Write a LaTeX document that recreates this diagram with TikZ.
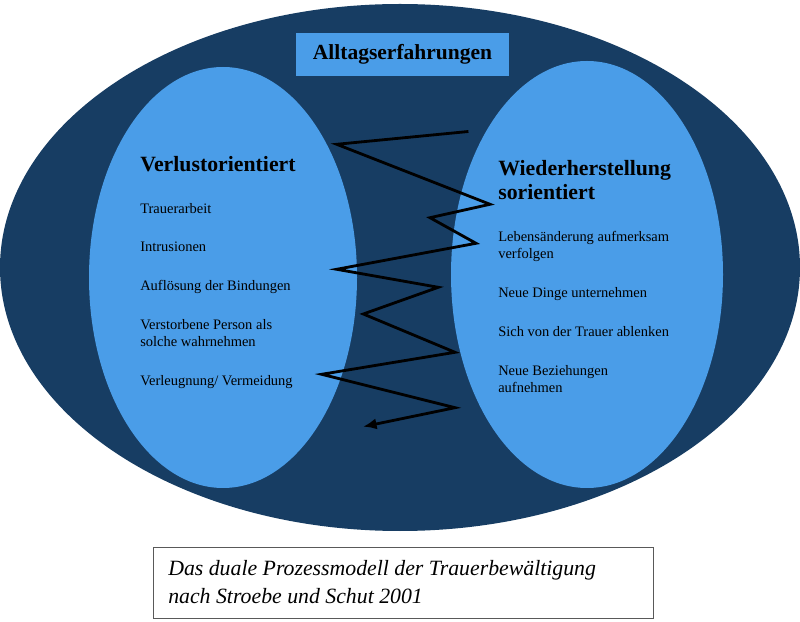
\documentclass[tikz,border=0pt]{standalone}
\usepackage{fontspec}
\setmainfont{Liberation Serif}
\usetikzlibrary{shapes,arrows.meta,positioning,calc}
\definecolor{navy}{RGB}{23,61,99}
\definecolor{sky}{RGB}{74,157,232}

\begin{document}
\begin{tikzpicture}[> = {Latex[length = 3.4mm, width = 2.8mm]}, inner sep = 0pt]
    \tikzset{
      blob/.style = {ellipse, fill = #1, inner sep = 0pt},
      heading/.style = {anchor = base west, align = left, font = \fontsize{15.5}{17.7}\selectfont\bfseries},
      task/.style = {anchor = base west, align = left, font = \fontsize{10.3}{12.8}\selectfont},
    }
    \useasboundingbox (0, 0) rectangle (20, 15.525);

    \node [blob = navy, minimum width = 20cm, minimum height = 13.175cm] (outer) at (10, 8.8375) {};
    \node [blob = sky, minimum width = 6.7cm, minimum height = 10.525cm] (loss) at (5.575, 8.5875) {};
    \node [blob = sky, minimum width = 6.8cm, minimum height = 10.675cm] (restore) at (14.675, 8.6625) {};

    \node [fill = sky, minimum width = 5.325cm, minimum height = 1.075cm] (everyday) at (10.0625, 14.1625) {};
    \node [anchor = base, font = \fontsize{15.3}{17.7}\selectfont\bfseries] (everydaytext) at (10.0625, 14.025) {Alltagserfahrungen};

    % baseline of the last line of each node
    \node [heading] (losshead) at (3.5, 11.225) {Verlustorientiert};
    \node [task] (loss1) at (3.5, 10.175) {Trauerarbeit};
    \node [task] (loss2) at (3.5, 9.225) {Intrusionen};
    \node [task] (loss3) at (3.5, 8.25) {Auflösung der Bindungen};
    \node [task] (loss4) at (3.5, 6.85) {Verstorbene Person als\\solche wahrnehmen};
    \node [task] (loss5) at (3.5, 5.875) {Verleugnung/ Vermeidung};

    \node [heading] (restorehead) at (12.45, 10.525) {Wiederherstellung\\sorientiert};
    \node [task] (restore1) at (12.45, 9.05) {Lebensänderung aufmerksam\\verfolgen};
    \node [task] (restore2) at (12.45, 8.075) {Neue Dinge unternehmen};
    \node [task] (restore3) at (12.45, 7.1) {Sich von der Trauer ablenken};
    \node [task] (restore4) at (12.45, 5.7) {Neue Beziehungen\\aufnehmen};

    % oscillation between both sides
    \coordinate (z0) at (11.71, 12.2375);
    \coordinate (z1) at (8.4175, 11.9175);
    \coordinate (z2) at (12.25, 10.4175);
    \coordinate (z3) at (10.75, 10.0825);
    \coordinate (z4) at (11.9, 9.4425);
    \coordinate (z5) at (8.4175, 8.7925);
    \coordinate (z6) at (10.9575, 8.3425);
    \coordinate (z7) at (9.0825, 7.675);
    \coordinate (z8) at (11.375, 6.7175);
    \coordinate (z9) at (8.0425, 6.1675);
    \coordinate (z10) at (11.375, 5.3325);
    \coordinate (z11) at (9.075, 4.8575);
    \draw [->, line width = 2pt] (z0) -- (z1) -- (z2) -- (z3) -- (z4) -- (z5) -- (z6)
      -- (z7) -- (z8) -- (z9) -- (z10) -- (z11);

    \node [draw = black!65, fill = white, line width = 0.6pt, minimum width = 12.5cm, minimum height = 1.775cm] (caption) at (10.075, 0.9625) {};
    \node [anchor = base west, align = left, font = \fontsize{15.5}{19.8}\selectfont\itshape] (captiontext) at (4.2, 0.45)
      {Das duale Prozessmodell der Trauerbewältigung\\nach Stroebe und Schut 2001};
  \end{tikzpicture}
\end{document}
